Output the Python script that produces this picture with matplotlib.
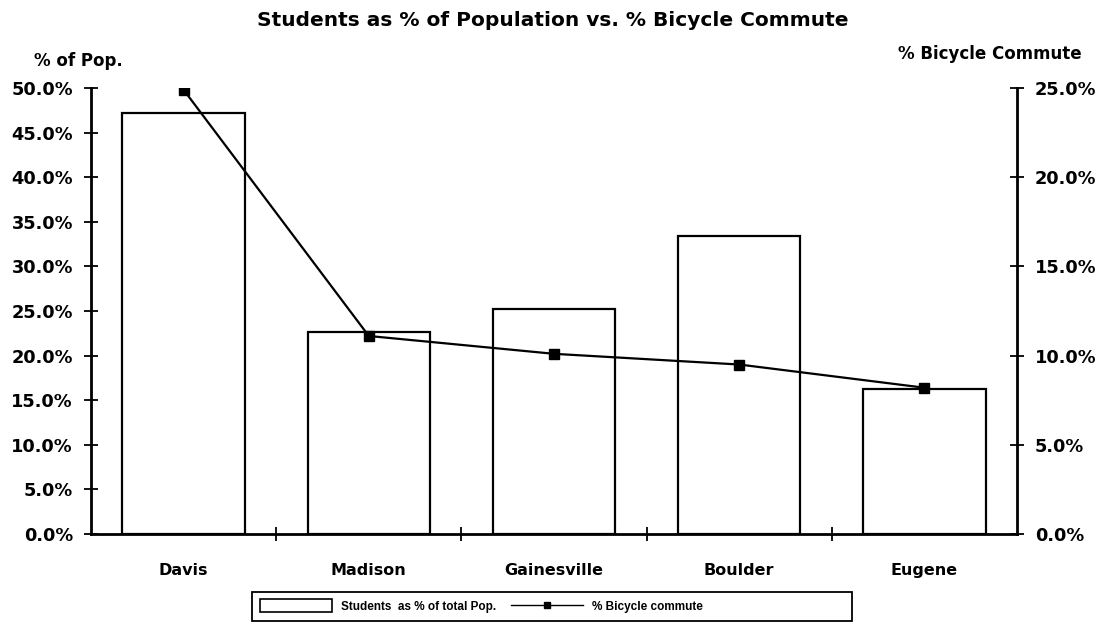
import matplotlib
matplotlib.use("Agg")
import matplotlib.pyplot as plt
from matplotlib.ticker import FuncFormatter, FixedLocator
from matplotlib.patches import Patch, Rectangle
from matplotlib.lines import Line2D

cities = ["Davis", "Madison", "Gainesville", "Boulder", "Eugene"]
students_pct = [47.2, 22.7, 25.2, 33.4, 16.3]
bike_pct = [24.9, 11.1, 10.1, 9.5, 8.2]
left_ticks = [0, 5, 10, 15, 20, 25, 30, 35, 40, 45, 50]
right_ticks = [0, 5, 10, 15, 20, 25]

BIG = ['DejaVu Sans']
plt.rcParams['font.family'] = ['Liberation Sans', 'DejaVu Sans']
plt.rcParams['font.weight'] = 'bold'

fig = plt.figure(figsize=(10.97, 6.42), dpi=100)
ax = fig.add_axes([91/1097, 1-534/642, (1017-91)/1097, (534-88)/642])
x = list(range(len(cities)))
ax.bar(x, students_pct, width=0.66, facecolor='white', edgecolor='black', linewidth=1.6, zorder=2)
ax.set_xlim(-0.5, len(cities) - 0.5)
ax.set_ylim(0, 50)
ax.yaxis.set_major_locator(FixedLocator(left_ticks))
ax.yaxis.set_major_formatter(FuncFormatter(lambda v, p: f"{v:.1f}%"))
ax.xaxis.set_major_locator(FixedLocator(x))
ax.set_xticklabels(cities)
ax.xaxis.set_minor_locator(FixedLocator([i + 0.5 for i in x[:-1]]))
ax.tick_params(axis='x', which='major', length=0, pad=21)
ax.tick_params(axis='x', which='minor', length=10, width=1.3, direction='inout')
ax.tick_params(axis='y', length=10, width=1.3, direction='inout', pad=8)
for lab in ax.get_xticklabels():
    lab.set_fontweight('bold'); lab.set_family(BIG); lab.set_fontsize(11.5)
for lab in ax.get_yticklabels():
    lab.set_fontweight('bold'); lab.set_family(BIG); lab.set_fontsize(12.8)
ax.spines['top'].set_visible(False)
ax.spines['right'].set_visible(False)
for s in ['left', 'bottom']:
    ax.spines[s].set_linewidth(2)

ax2 = ax.twinx()
ax2.plot(x, bike_pct, color='black', linewidth=1.6, marker='s', markersize=7.5, zorder=3)
ax2.set_ylim(0, 25)
ax2.yaxis.set_major_locator(FixedLocator(right_ticks))
ax2.yaxis.set_major_formatter(FuncFormatter(lambda v, p: f"{v:.1f}%"))
ax2.tick_params(axis='y', length=10, width=1.3, direction='inout', pad=8)
for lab in ax2.get_yticklabels():
    lab.set_fontweight('bold'); lab.set_family(BIG); lab.set_fontsize(12.8)
ax2.spines['top'].set_visible(False)
ax2.spines['left'].set_visible(False)
ax2.spines['bottom'].set_visible(False)
ax2.spines['right'].set_linewidth(2)

fig.text(553/1097, 1-20/642, "Students as % of Population vs. % Bicycle Commute",
         ha='center', va='center', fontsize=14.5, fontweight='bold', family=BIG)
fig.text(78/1097, 1-61/642, "% of Pop.", ha='center', va='center', fontsize=12, fontweight='bold', family=BIG)
fig.text(990/1097, 1-54/642, "% Bicycle Commute", ha='center', va='center', fontsize=12, fontweight='bold', family=BIG)

# legend frame
fig.patches.append(Rectangle((252/1097, 1-621/642), 600/1097, 29/642, transform=fig.transFigure,
                             facecolor='none', edgecolor='black', linewidth=1.3))
handles = [Patch(facecolor='white', edgecolor='black', linewidth=1.2),
           Line2D([], [], color='black', marker='s', markersize=5, linewidth=1)]
leg = fig.legend(handles, ["Students  as % of total Pop.", "% Bicycle commute"],
                 loc='center left', bbox_to_anchor=(260/1097, 1-606/642), ncol=2,
                 frameon=False, prop={'size': 8.5, 'weight': 'bold'},
                 handlelength=6.1, handleheight=1.2, handletextpad=0.8,
                 columnspacing=1.2, borderpad=0, borderaxespad=0)

fig.savefig("out.png", dpi=100, facecolor='white')
